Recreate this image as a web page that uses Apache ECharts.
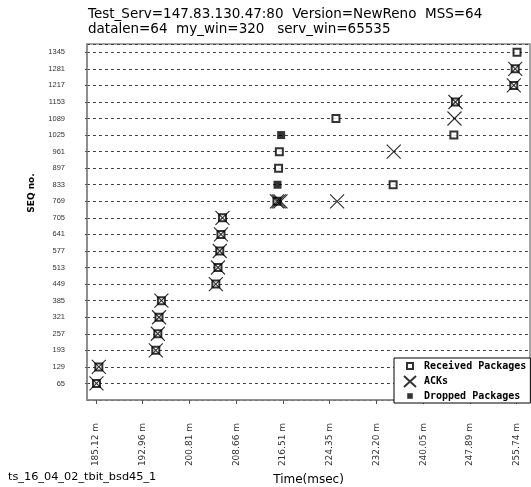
<!DOCTYPE html>
<html>
<head>
<meta charset="utf-8">
<script src="https://cdn.jsdelivr.net/npm/echarts@6/dist/echarts.min.js"></script>
<style>html,body{margin:0;padding:0;background:#fff;}#c{width:531px;height:487px;}</style>
</head>
<body>
<div id="c"></div>
<script>
// Tick labels on the time axis (ms)
const xTicks = [185.12, 192.96, 200.81, 208.66, 216.51, 224.35, 232.20, 240.05, 247.89, 255.74];
// Received packages [time, seq]
const received = [
  [185.2, 65], [185.6, 129],
  [195.16, 193], [195.5, 257], [195.7, 321], [196.1, 385],
  [205.24, 449], [205.6, 513], [205.9, 577], [206.1, 641], [206.35, 705],
  [215.5, 769], [215.77, 897], [215.9, 961],
  [225.4, 1089], [235.0, 833],
  [245.2, 1025], [245.46, 1153],
  [255.26, 1217], [255.5, 1281], [255.8, 1345]
];
// ACKs [time, seq]
const acks = [
  [185.2, 65], [185.6, 129],
  [195.16, 193], [195.5, 257], [195.7, 321], [196.1, 385],
  [205.24, 449], [205.6, 513], [205.9, 577], [206.1, 641], [206.35, 705],
  [215.5, 769], [215.8, 769], [216.1, 769],
  [225.6, 769], [235.1, 961],
  [245.3, 1089], [245.46, 1153],
  [255.26, 1217], [255.5, 1281]
];
// Dropped packages [time, seq]
const dropped = [[215.59, 833], [216.2, 1025]];

const chart = echarts.init(document.getElementById('c'));
chart.setOption({
  animation: false,
  backgroundColor: '#fff',
  title: {
    text: 'Test_Serv=147.83.130.47:80  Version=NewReno  MSS=64\ndatalen=64  my_win=320   serv_win=65535',
    left: 88, top: 7, padding: 0,
    textStyle: { fontFamily: 'DejaVu Sans', fontSize: 13.5, fontWeight: 'normal', color: '#000', lineHeight: 15 }
  },
  grid: { left: 87, top: 44, right: 1, bottom: 87, outerBoundsMode: 'none', containLabel: false,
          show: true, borderColor: '#888', borderWidth: 1.5 },
  xAxis: {
    type: 'value', min: 183.61, max: 257.98,
    name: 'Time(msec)', nameLocation: 'middle', nameGap: 73,
    nameTextStyle: { fontFamily: 'DejaVu Sans', fontSize: 12, color: '#000' },
    axisLine: { show: true, lineStyle: { color: '#888', width: 1.5 } },
    axisTick: { show: true, length: 4, lineStyle: { color: '#555' }, customValues: xTicks },
    axisLabel: {
      customValues: xTicks, rotate: 90, margin: 23,
      fontFamily: 'DejaVu Sans', fontSize: 9, color: '#333',
      formatter: v => v.toFixed(2) + ' m'
    },
    splitLine: { show: false }
  },
  yAxis: {
    type: 'value', min: 1, max: 1377, interval: 64,
    axisLine: { show: true, lineStyle: { color: '#888', width: 1.5 } },
    axisTick: { show: true, length: 2, lineStyle: { color: '#555' } },
    axisLabel: {
      showMinLabel: false, showMaxLabel: false, margin: 22,
      fontFamily: 'Liberation Sans', fontSize: 7.5, color: '#333',
      formatter: v => String(v)
    },
    splitLine: { show: true, lineStyle: { color: '#444', type: [3, 3], width: 1 } }
  },
  legend: {
    orient: 'vertical', left: 394, top: 358,
    padding: [1, 4, 1, 6], itemGap: 1.5, itemWidth: 18, itemHeight: 12,
    backgroundColor: '#fff', borderColor: '#000', borderWidth: 1,
    textStyle: { fontFamily: 'DejaVu Sans Mono', fontSize: 10, fontWeight: 'bold', color: '#000' },
    data: [
      { name: 'Received Packages', icon: 'path://M0,0M18,12M6,3L12,3L12,9L6,9Z' },
      { name: 'ACKs', icon: 'path://M0,0M18,12M3,0.5L15,11.5M15,0.5L3,11.5' },
      { name: 'Dropped Packages', icon: 'path://M0,0M18,12M6.2,3.2L11.8,3.2L11.8,8.8L6.2,8.8Z' }
    ],
    selectedMode: false
  },
  graphic: [
    { type: 'text', left: 8, top: 472, style: { text: 'ts_16_04_02_tbit_bsd45_1', font: '11.3px "DejaVu Sans"', fill: '#000' } },
    { type: 'text', x: 32, y: 193, rotation: Math.PI / 2, style: { text: 'SEQ no.', font: 'bold 9px "DejaVu Sans"', fill: '#000', align: 'center', verticalAlign: 'middle' } }
  ],
  series: [
    {
      name: 'Received Packages', type: 'scatter', data: received,
      symbol: 'rect', symbolSize: 7,
      itemStyle: { color: '#fff', borderColor: '#000', borderWidth: 2 },
      emphasis: { disabled: true }, z: 2
    },
    {
      name: 'Dropped Packages', type: 'scatter', data: dropped,
      symbol: 'rect', symbolSize: 8,
      itemStyle: { color: '#000' },
      emphasis: { disabled: true }, z: 3
    },
    {
      name: 'ACKs', type: 'scatter', data: acks,
      symbol: 'path://M0,0L10,10M10,0L0,10', symbolSize: 14,
      itemStyle: { color: 'rgba(0,0,0,0)', borderColor: '#000', borderWidth: 1.2 },
      emphasis: { disabled: true }, z: 4
    }
  ]
});
</script>
</body>
</html>
